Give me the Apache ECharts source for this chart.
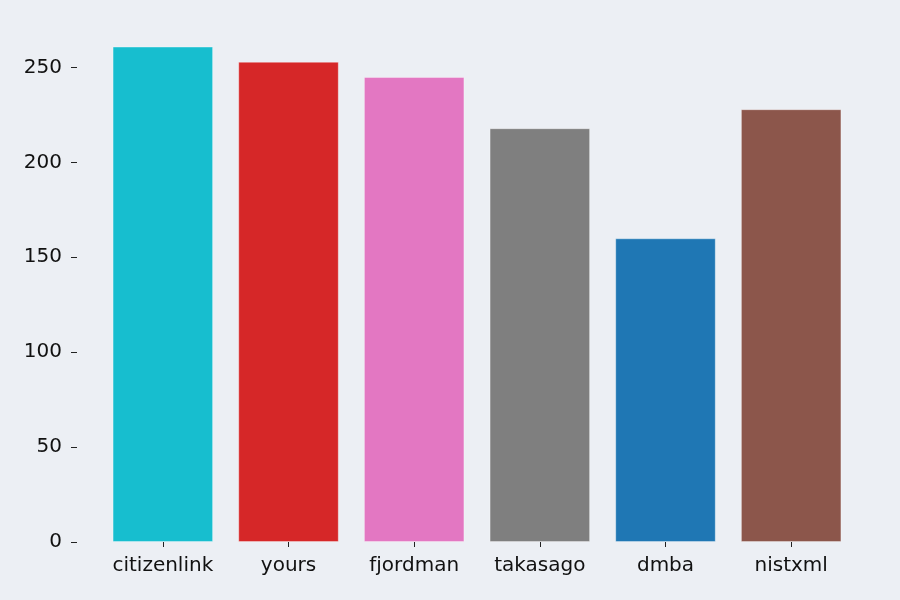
<!DOCTYPE html>
<html><head><meta charset="utf-8">
<script src="https://cdn.jsdelivr.net/npm/echarts@6/dist/echarts.min.js"></script>
<style>html,body{margin:0;padding:0;background:#eceff4;}#c{width:900px;height:600px;}</style>
</head><body><div id="c"></div>
<script>
const categories = ['citizenlink', 'yours', 'fjordman', 'takasago', 'dmba', 'nistxml'];
const values = [261, 253, 245, 218, 160, 228];
const colors = ['#17becf', '#d62728', '#e377c2', '#7f7f7f', '#1f77b4', '#8c564b'];
const yTicks = [0, 50, 100, 150, 200, 250];

const chart = echarts.init(document.getElementById('c'), null, {renderer: 'canvas'});
const font = 'DejaVu Sans';
chart.setOption({
  backgroundColor: '#eceff4',
  animation: false,
  grid: {left: 100, right: 46, top: 20, bottom: 58},
  xAxis: {
    type: 'category', data: categories, boundaryGap: true,
    axisLine: {show: false},
    axisTick: {show: true, alignWithLabel: true, interval: 0, length: 5, lineStyle: {color: '#222', width: 1}},
    axisLabel: {color: '#111', fontFamily: font, fontSize: 20, margin: 14, interval: 0, hideOverlap: false}
  },
  yAxis: {
    type: 'value', min: 0, max: 275, interval: 50, offset: 23,
    axisLine: {show: false},
    splitLine: {show: false},
    axisTick: {show: true, length: 6, lineStyle: {color: '#222', width: 1}},
    axisLabel: {color: '#111', fontFamily: font, fontSize: 20, margin: 15, showMaxLabel: false,
      formatter: v => yTicks.includes(v) ? String(v) : ''}
  },
  series: [{
    type: 'bar', barWidth: '80%',
    data: values.map((v, i) => ({value: v, itemStyle: {color: colors[i]}})),
    itemStyle: {borderColor: 'rgba(255,255,255,0.35)', borderWidth: 1}
  }]
});
</script></body></html>
